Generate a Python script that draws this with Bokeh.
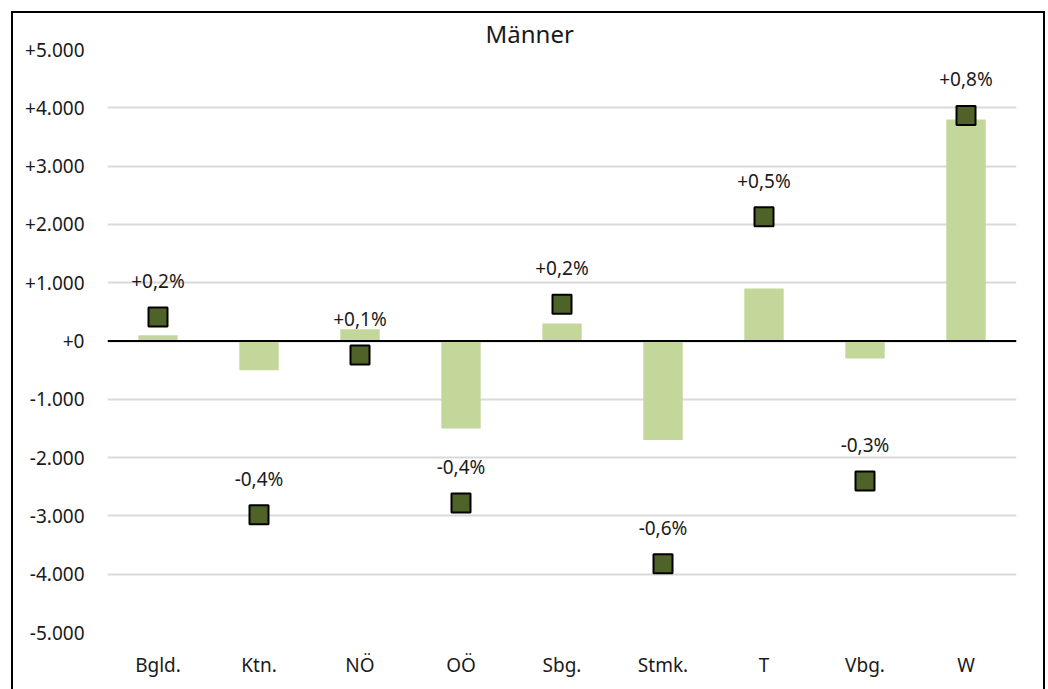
from bokeh.plotting import figure
from bokeh.models import ColumnDataSource, FixedTicker, Span, LabelSet, Title
from bokeh.core.properties import value
from bokeh.embed import file_html
from bokeh.resources import INLINE

categories = ["Bgld.", "Ktn.", "NÖ", "OÖ", "Sbg.", "Stmk.", "T", "Vbg.", "W"]
bar_values = [100, -500, 200, -1500, 300, -1700, 900, -300, 3800]
marker_values = [410, -2980, -240, -2780, 630, -3820, 2130, -2400, 3870]
pct_labels = ["+0,2%", "-0,4%", "+0,1%", "-0,4%", "+0,2%", "-0,6%", "+0,5%", "-0,3%", "+0,8%"]
y_ticks = [-5000, -4000, -3000, -2000, -1000, 0, 1000, 2000, 3000, 4000, 5000]
y_tick_labels = ["-5.000", "-4.000", "-3.000", "-2.000", "-1.000", "+0",
                 "+1.000", "+2.000", "+3.000", "+4.000", "+5.000"]

FONT = "Noto Sans"
TXT = "#1a1a1a"

src = ColumnDataSource(dict(cat=categories, bar=bar_values, mk=marker_values, lab=pct_labels))

p = figure(x_range=categories, y_range=(-5000, 5000), width=1030, height=676,
           output_backend="svg", toolbar_location=None,
           min_border_left=94, min_border_right=27, min_border_top=36, min_border_bottom=57)
p.outline_line_color = None
p.background_fill_color = "white"
p.border_fill_color = "white"
p.styles = {"margin-left": "13px", "margin-top": "13px",
            "outline": "2px solid black"}

p.title = Title(text="Männer", align="left", offset=378, text_font=FONT,
                text_font_size="24px", text_font_style="normal", text_color=TXT,
                standoff=0)

p.vbar(x="cat", top="bar", width=0.39, source=src, fill_color="#C4D79B", line_color=None)
p.add_layout(Span(location=0, dimension="width", line_color="black", line_width=2))
p.scatter(x="cat", y="mk", source=src, marker="square", size=19,
          fill_color="#4F6228", line_color="black", line_width=2)

labels = LabelSet(x="cat", y="mk", text="lab", source=src, y_offset=23,
                  text_align="center", text_baseline="bottom",
                  text_font=value(FONT), text_font_size="19px", text_color=TXT)
p.add_layout(labels)

p.yaxis.ticker = FixedTicker(ticks=y_ticks)
p.yaxis.major_label_overrides = {t: l for t, l in zip(y_ticks, y_tick_labels)}
for ax in (p.xaxis, p.yaxis):
    ax.axis_line_color = None
    ax.major_tick_line_color = None
    ax.minor_tick_line_color = None
    ax.major_label_text_font = FONT
    ax.major_label_text_font_size = "19px"
    ax.major_label_text_color = TXT
p.yaxis.major_label_standoff = 17
p.xaxis.major_label_standoff = 13

p.xgrid.grid_line_color = None
p.ygrid.grid_line_color = "#D9D9D9"
p.ygrid.grid_line_width = 2

open("out.html", "w").write(file_html(p, INLINE))
